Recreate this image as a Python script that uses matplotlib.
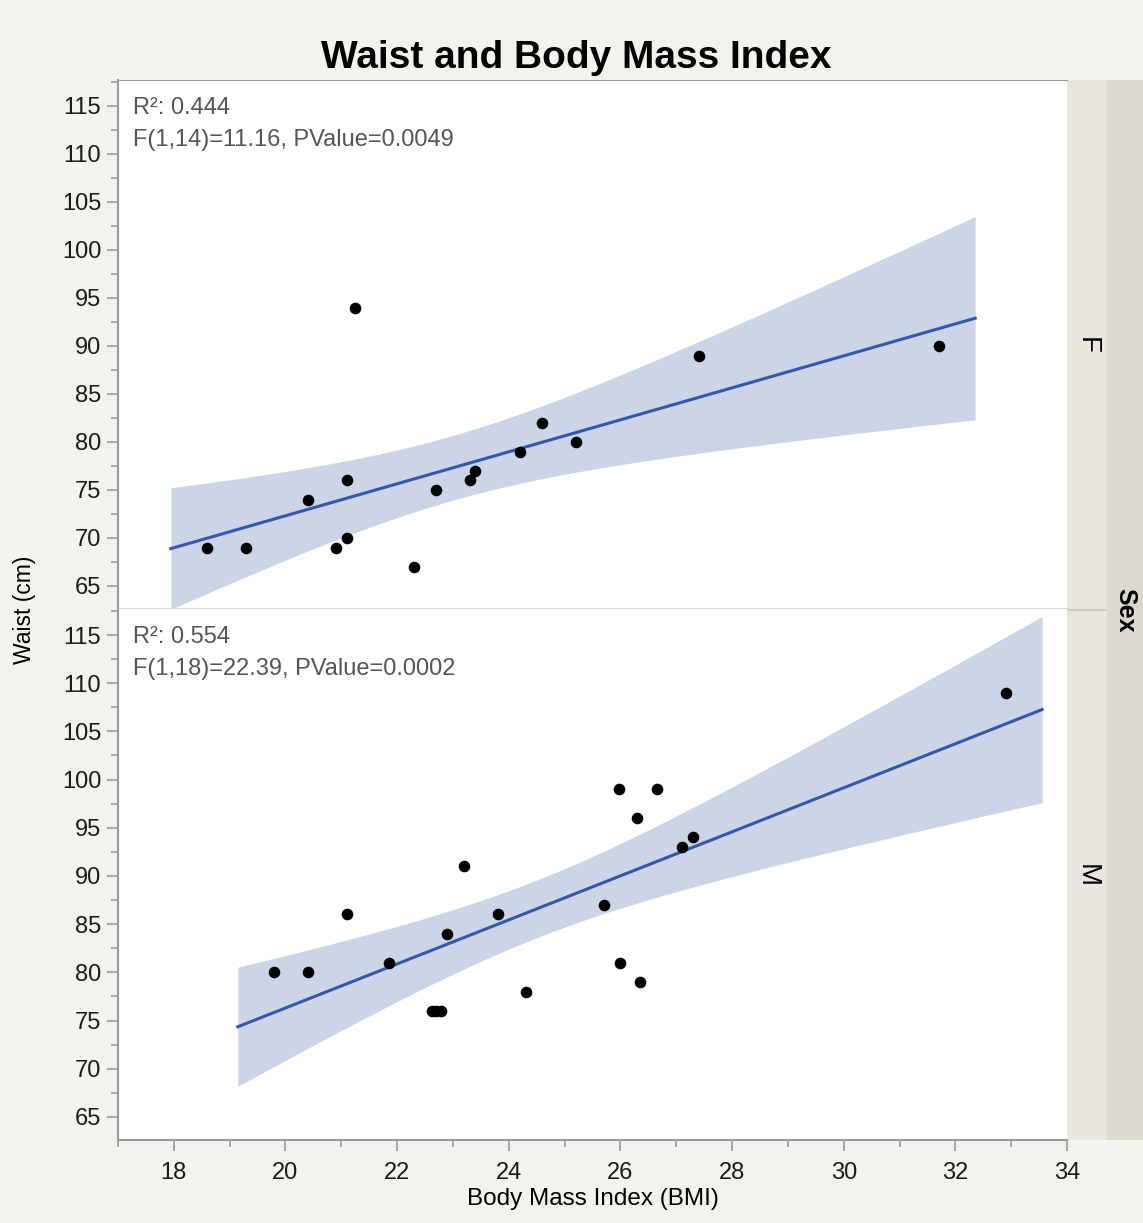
import numpy as np
import matplotlib
matplotlib.use("Agg")
import matplotlib.pyplot as plt
from matplotlib.ticker import MultipleLocator

plt.rcParams['font.family'] = ['Liberation Sans', 'DejaVu Sans']

# data
bmi_f = [18.6, 19.3, 20.4, 20.9, 21.1, 21.1, 21.25, 22.3, 22.7, 23.3, 23.4, 24.2, 24.6, 25.2, 27.4, 31.7]
waist_f = [69, 69, 74, 69, 76, 70, 94, 67, 75, 76, 77, 79, 82, 80, 89, 90]

bmi_m = [19.8, 20.4, 21.1, 21.85, 22.62, 22.7, 22.78, 22.9, 23.2, 23.8, 24.3, 25.7, 25.98,
         26.0, 26.3, 26.35, 26.65, 27.1, 27.3, 32.9]
waist_m = [80, 80, 86, 81, 76, 76, 76, 84, 91, 86, 78, 87, 99, 81, 96, 79, 99, 93, 94, 109]

stats_f = ["R²: 0.444", "F(1,14)=11.16, PValue=0.0049"]
stats_m = ["R²: 0.554", "F(1,18)=22.39, PValue=0.0002"]
t_f = 2.145   # t(0.975, 14)
t_m = 2.101   # t(0.975, 18)

bg = '#f3f3ee'
band_col = '#ccd5e8'
line_col = '#3557a8'
spine_col = '#9a9a9a'

W, H = 1143, 1223
fig = plt.figure(figsize=(W / 100, H / 100), dpi=100, facecolor=bg)

def box(l, t, r, b):
    return [l / W, 1 - b / H, (r - l) / W, (b - t) / H]

# strips on the right
strip1 = fig.add_axes(box(1067, 80, 1107, 1140))
strip1.set_facecolor('#e8e6de')
strip2 = fig.add_axes(box(1107, 80, 1143, 1140))
strip2.set_facecolor('#dcdacf')
for s in (strip1, strip2):
    s.set_xticks([]); s.set_yticks([])
    for sp in s.spines.values():
        sp.set_visible(False)
strip1.axhline(0.5, color='#cfcdc4', lw=1.5)
strip1.text(0.5, 0.75, 'F', rotation=-90, ha='center', va='center', fontsize=20, transform=strip1.transAxes)
strip1.text(0.5, 0.25, 'M', rotation=-90, ha='center', va='center', fontsize=20, transform=strip1.transAxes)
strip2.text(0.5, 0.5, 'Sex', rotation=-90, ha='center', va='center', fontsize=18, fontweight='bold',
            transform=strip2.transAxes)

ax1 = fig.add_axes(box(118, 80, 1067, 609))
ax2 = fig.add_axes(box(118, 609, 1067, 1140), sharex=ax1)

FS = 17


def panel(ax, x, y, tval, stats):
    x = np.array(x, float)
    y = np.array(y, float)
    n = len(x)
    b, a = np.polyfit(x, y, 1)
    resid = y - (a + b * x)
    s = np.sqrt(np.sum(resid ** 2) / (n - 2))
    sxx = np.sum((x - x.mean()) ** 2)
    rng = x.max() - x.min()
    xx = np.linspace(x.min() - 0.05 * rng, x.max() + 0.05 * rng, 200)
    yy = a + b * xx
    se = s * np.sqrt(1 / n + (xx - x.mean()) ** 2 / sxx)
    ax.fill_between(xx, yy - tval * se, yy + tval * se, color=band_col, lw=0, zorder=1)
    ax.plot(xx, yy, color=line_col, lw=2.2, zorder=2)
    ax.scatter(x, y, s=70, color='black', zorder=3, linewidths=0)
    ax.set_ylim(62.6, 117.7)
    ax.set_xlim(17, 34)
    ax.yaxis.set_major_locator(MultipleLocator(5))
    ax.yaxis.set_minor_locator(MultipleLocator(2.5))
    ax.xaxis.set_major_locator(MultipleLocator(2))
    ax.xaxis.set_minor_locator(MultipleLocator(1))
    ax.tick_params(axis='both', which='major', length=8, width=1.2, color=spine_col,
                   labelsize=FS, pad=4, labelcolor='#1a1a1a')
    ax.tick_params(axis='both', which='minor', length=5, width=1.2, color=spine_col)
    ax.set_yticks(np.arange(65, 116, 5))
    for side in ('top', 'right'):
        ax.spines[side].set_visible(False)
    for side in ('left', 'bottom'):
        ax.spines[side].set_color(spine_col)
        ax.spines[side].set_linewidth(1.5)
    ax.text(0.016, 0.968, stats[0], transform=ax.transAxes, fontsize=FS, color='#555555',
            ha='left', va='top')
    ax.text(0.016, 0.908, stats[1], transform=ax.transAxes, fontsize=FS, color='#555555',
            ha='left', va='top')


panel(ax1, bmi_f, waist_f, t_f, stats_f)
panel(ax2, bmi_m, waist_m, t_m, stats_m)

ax1.spines['bottom'].set_color('#d8d8d8')
ax1.spines['top'].set_visible(True)
ax1.spines['top'].set_color(spine_col)
ax1.tick_params(axis='x', which='both', bottom=False, labelbottom=False)

ax2.tick_params(axis='x', which='major', pad=8)
ax2.set_xlabel('Body Mass Index (BMI)', fontsize=17.5, labelpad=3)
fig.text(25 / W, 1 - 610 / H, 'Waist (cm)', rotation=90, ha='center', va='center', fontsize=16.5)
fig.text(576 / W, 1 - 58 / H, 'Waist and Body Mass Index', ha='center', va='center',
         fontsize=28, fontweight='bold')

fig.savefig('out.png', dpi=100, facecolor=bg)
